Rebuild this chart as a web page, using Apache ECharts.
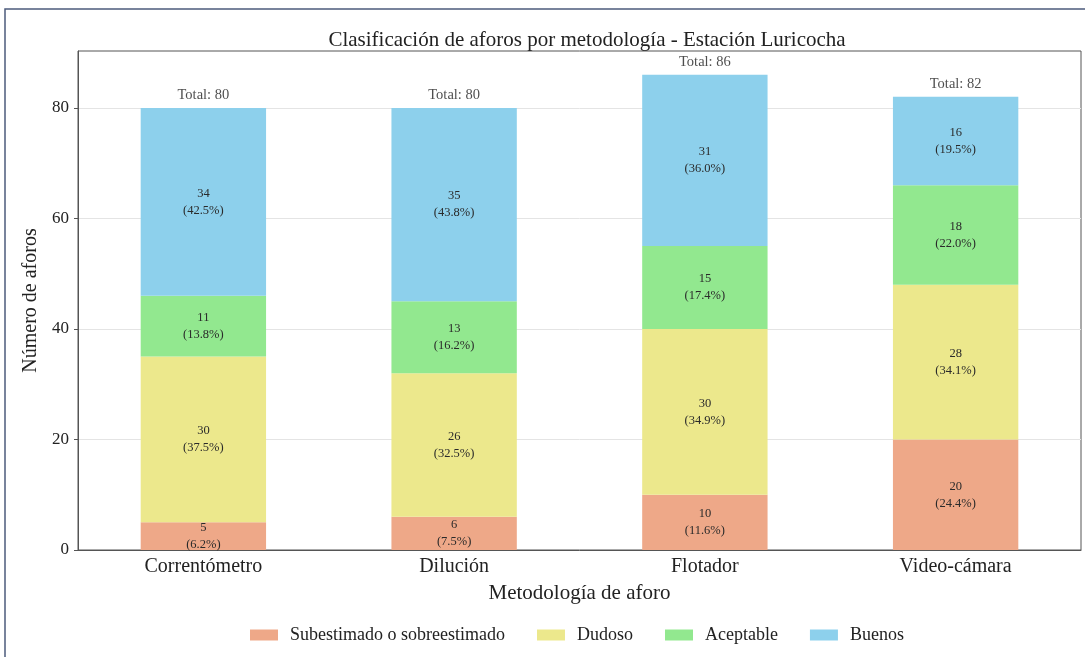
<!DOCTYPE html>
<html>
<head>
<meta charset="utf-8">
<script src="https://cdn.jsdelivr.net/npm/echarts@6/dist/echarts.min.js"></script>
<style>
  html, body { margin: 0; padding: 0; background: #fff; }
  #chart { width: 1085px; height: 657px; }
</style>
</head>
<body>
<div id="chart"></div>
<script>
// Gauging methods at the Luricocha station
const categories = ['Correntómetro', 'Dilución', 'Flotador', 'Video-cámara'];

// Counts per quality class
const subestimado = [5, 6, 10, 20];
const dudoso = [30, 26, 30, 28];
const aceptable = [11, 13, 15, 18];
const buenos = [34, 35, 31, 16];

// Share of each class within its method, as printed in the segment labels
const pctSubestimado = ['6.2', '7.5', '11.6', '24.4'];
const pctDudoso = ['37.5', '32.5', '34.9', '34.1'];
const pctAceptable = ['13.8', '16.2', '17.4', '22.0'];
const pctBuenos = ['42.5', '43.8', '36.0', '19.5'];

// Y axis tick values
const yTicks = [0, 20, 40, 60, 80];

const seriesNames = ['Subestimado o sobreestimado', 'Dudoso', 'Aceptable', 'Buenos'];
const seriesColors = ['#EEA888', '#ECE88C', '#92E88F', '#8DD0EC'];

const totals = categories.map((_, i) => subestimado[i] + dudoso[i] + aceptable[i] + buenos[i]);

const FONT = '"Liberation Serif", "DejaVu Serif", serif';

function stackSeries(name, values, pcts, color) {
  return {
    name: name,
    type: 'bar',
    stack: 'total',
    barWidth: '50%',
    data: values,
    itemStyle: { color: color },
    label: {
      show: true,
      position: 'inside',
      fontFamily: FONT,
      fontSize: 12.5,
      color: '#2a2a2a',
      lineHeight: 17,
      formatter: p => p.value + '\n(' + pcts[p.dataIndex] + '%)'
    }
  };
}

const chart = echarts.init(document.getElementById('chart'), null, { renderer: 'canvas' });

chart.setOption({
  animation: false,
  backgroundColor: '#fff',
  textStyle: { fontFamily: FONT },
  graphic: [{
    type: 'rect',
    shape: { x: 5, y: 9, width: 1300, height: 900 },
    style: { fill: 'none', stroke: '#4C5B7C', lineWidth: 1.5 },
    silent: true,
    z: -10
  }],
  title: {
    text: 'Clasificación de aforos por metodología - Estación Luricocha',
    left: 582,
    textAlign: 'center',
    top: 25,
    textStyle: { fontFamily: FONT, fontSize: 21, fontWeight: 'normal', color: '#222' }
  },
  legend: {
    data: seriesNames,
    top: 621,
    left: 245,
    itemWidth: 28,
    itemHeight: 11,
    itemGap: 32,
    icon: 'rect',
    textStyle: { fontFamily: FONT, fontSize: 18, color: '#222', padding: [0, 0, 0, 7] }
  },
  grid: {
    left: 78, right: 4, top: 51, bottom: 107,
    show: true, borderColor: '#555', borderWidth: 1
  },
  xAxis: {
    type: 'category',
    data: categories,
    name: 'Metodología de aforo',
    nameLocation: 'middle',
    nameGap: 33,
    nameTextStyle: { fontFamily: FONT, fontSize: 21, color: '#222' },
    axisLine: { lineStyle: { color: '#555' } },
    axisTick: { alignWithLabel: true, length: 4, lineStyle: { color: '#555' } },
    axisLabel: { fontFamily: FONT, fontSize: 20, color: '#222', margin: 7 }
  },
  yAxis: {
    type: 'value',
    min: 0,
    max: 90.3,
    interval: 20,
    name: 'Número de aforos',
    nameLocation: 'middle',
    nameGap: 31,
    nameTextStyle: { fontFamily: FONT, fontSize: 20, color: '#222' },
    axisLine: { show: true, lineStyle: { color: '#555' } },
    axisTick: { show: true, length: 4, customValues: yTicks, lineStyle: { color: '#555' } },
    axisLabel: {
      fontFamily: FONT, fontSize: 17, color: '#222', margin: 9,
      customValues: yTicks
    },
    splitLine: { show: true, lineStyle: { color: '#e4e4e4', width: 1 } }
  },
  series: [
    stackSeries(seriesNames[0], subestimado, pctSubestimado, seriesColors[0]),
    stackSeries(seriesNames[1], dudoso, pctDudoso, seriesColors[1]),
    stackSeries(seriesNames[2], aceptable, pctAceptable, seriesColors[2]),
    stackSeries(seriesNames[3], buenos, pctBuenos, seriesColors[3]),
    {
      name: 'total',
      type: 'scatter',
      data: totals,
      symbolSize: 1,
      itemStyle: { color: 'rgba(0,0,0,0)' },
      silent: true,
      z: 10,
      label: {
        show: true,
        position: 'top',
        distance: 5,
        fontFamily: FONT,
        fontSize: 14.5,
        color: '#222',
        formatter: p => 'Total: ' + p.value
      }
    }
  ]
});
</script>
</body>
</html>
